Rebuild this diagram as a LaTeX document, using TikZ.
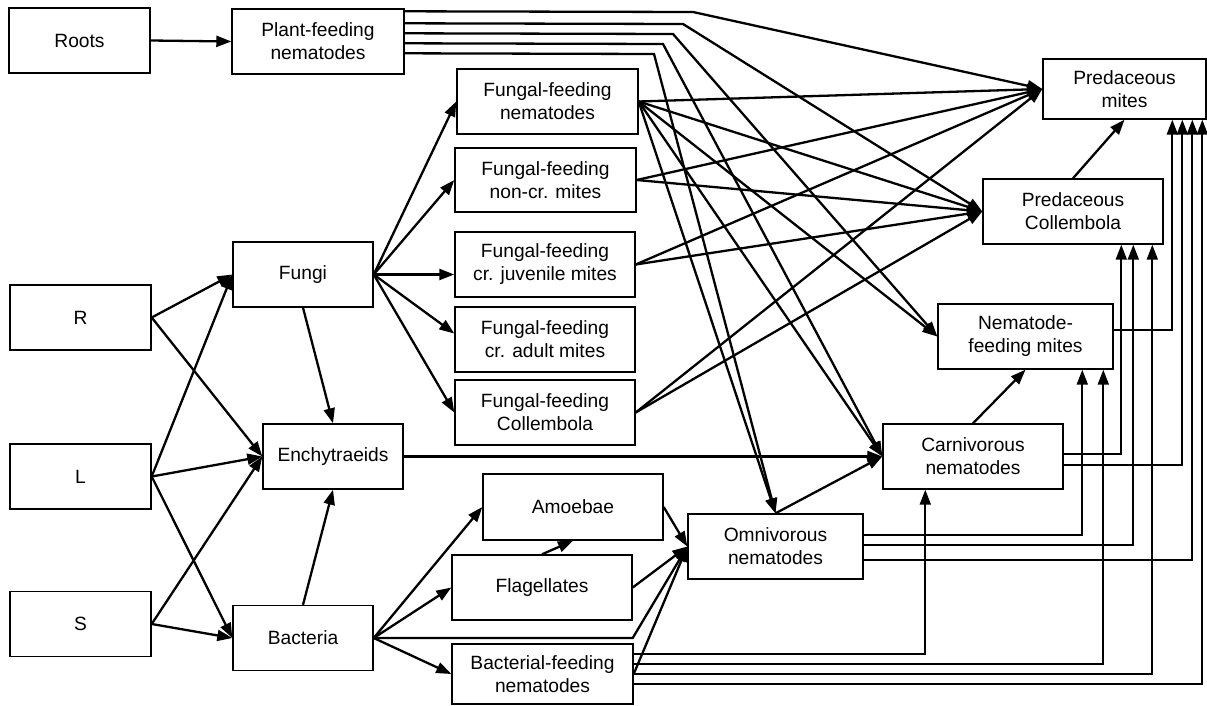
\documentclass[tikz,border=0pt]{standalone}
\usepackage{fontspec}
\setmainfont{Liberation Sans}
\usetikzlibrary{arrows.meta,calc}
\begin{document}
\begin{tikzpicture}[x=1pt,y=-1pt,
  box/.style={draw, line width=1.4pt, inner sep=0pt, align=center,
    font=\fontsize{19.2}{23}\selectfont, minimum height=65pt},
  arr/.style={line width=2.3pt, -{Triangle[length=15pt,width=11pt]}},
  orth/.style={line width=2pt, -{Triangle[length=15pt,width=11pt]}}]
\useasboundingbox (0,0) rectangle (1207,706);
% nodes
\node[box, minimum width=141pt] (roots) at (79.5,40.5) {Roots};
\node[box, minimum width=172pt] (plant) at (318,41.5) {Plant-feeding\\nematodes};
\node[box, minimum width=181pt] (ffn) at (547.5,101.5) {Fungal-feeding\\nematodes};
\node[box, minimum width=181pt, minimum height=64pt] (ffm) at (545.5,180) {Fungal-feeding\\non-cr. mites};
\node[box, minimum width=180pt] (ffj) at (545,264.5) {Fungal-feeding\\cr. juvenile mites};
\node[box, minimum width=180pt] (ffa) at (545,339.5) {Fungal-feeding\\cr. adult mites};
\node[box, minimum width=180pt] (ffc) at (545,412.5) {Fungal-feeding\\Collembola};
\node[box, minimum width=163pt, minimum height=60pt] (pm) at (1124.5,89) {Predaceous\\mites};
\node[box, minimum width=180pt] (pc) at (1073,211.5) {Predaceous\\Collembola};
\node[box, minimum width=175pt] (nfm) at (1025.5,336.5) {Nematode-\\feeding mites};
\node[box, minimum width=180pt] (cn) at (973,456.5) {Carnivorous\\nematodes};
\node[box, minimum width=140pt] (fungi) at (303,274.5) {Fungi};
\node[box, minimum width=141pt] (R) at (80.5,317.5) {R};
\node[box, minimum width=141pt] (L) at (80.5,476.5) {L};
\node[box, minimum width=141pt] (S) at (80.5,624) {S};
\node[box, minimum width=140pt] (ench) at (333,456.5) {Enchytraeids};
\node[box, minimum width=140pt] (bact) at (303,638) {Bacteria};
\node[box, minimum width=180pt, minimum height=66pt] (amoe) at (573,507) {Amoebae};
\node[box, minimum width=180pt] (flag) at (542,587.5) {Flagellates};
\node[box, minimum width=181pt, minimum height=60pt] (bfn) at (542.5,674) {Bacterial-feeding\\nematodes};
\node[box, minimum width=175pt] (omni) at (775.5,546.5) {Omnivorous\\nematodes};
% left part
\draw[arr] (roots.east) -- (plant.west);
\draw[arr] (R.east) -- (fungi.west);
\draw[arr] (R.east) -- (ench.west);
\draw[arr] (L.east) -- (fungi.west);
\draw[arr] (L.east) -- (ench.west);
\draw[arr] (L.east) -- (bact.west);
\draw[arr] (S.east) -- (ench.west);
\draw[arr] (S.east) -- (bact.west);
\draw[arr] (fungi.south) -- (ench.north);
\draw[arr] (bact.north) -- (ench.south);
% fungi fan
\draw[arr] (fungi.east) -- (ffn.west);
\draw[arr] (fungi.east) -- (ffm.west);
\draw[arr] (fungi.east) -- (fungi.east -| ffj.west);
\draw[arr] (fungi.east) -- ($(ffa.west)+(0,-6)$);
\draw[arr] (fungi.east) -- (ffc.west);
% bacteria fan
\draw[arr] (bact.east) -- (amoe.west);
\draw[arr] (bact.east) -- (flag.west);
\draw[arr] (bact.east) -- (bfn.west);
\draw[arr] (bact.east) -- (bact.east -| flag.east) -- (omni.west);
\draw[arr] (flag.north) -- (amoe.south);
\draw[arr] (amoe.east) -- (omni.west);
\draw[arr] (flag.east) -- (omni.west);
\draw[arr] (bfn.east) -- (omni.west);
\draw[arr] (ench.east) -- (cn.west);
\draw[arr] (omni.north) -- (cn.west);
\draw[arr] (cn.north) -- (nfm.south);
\draw[arr] (pc.north) -- (pm.south);
% plant-feeding nematodes
\draw[arr] ($(plant.north east)+(0,3)$) -- (693,12) -- (pm.west);
\draw[arr] ($(plant.north east)+(0,15)$) -- (683,24) -- (pc.west);
\draw[arr] ($(plant.north east)+(0,25)$) -- (673,34) -- (nfm.west);
\draw[arr] ($(plant.north east)+(0,35)$) -- (663,44) -- (cn.west);
\draw[arr] ($(plant.north east)+(0,45)$) -- (654,54) -- (omni.north);
% fungal-feeding nematodes
\draw[arr] (ffn.east) -- (pm.west);
\draw[arr] (ffn.east) -- (pc.west);
\draw[arr] (ffn.east) -- (nfm.west);
\draw[arr] (ffn.east) -- (cn.west);
\draw[arr] (ffn.east) -- (omni.north);
% fungal-feeding mites and collembola
\draw[arr] (ffm.east) -- (pm.west);
\draw[arr] (ffm.east) -- (pc.west);
\draw[arr] (ffj.east) -- (pm.west);
\draw[arr] (ffj.east) -- (pc.west);
\draw[arr] (ffc.east) -- (pm.west);
\draw[arr] (ffc.east) -- (pc.west);
% right-side orthogonal links
\draw[orth] ($(nfm.east)+(0,-6.5)$) -| ($(pm.south west)+(130,0)$);
\draw[orth] ($(cn.east)+(0,-2.5)$) -| ($(pc.south west)+(139,0)$);
\draw[orth] ($(cn.east)+(0,8.5)$) -| ($(pm.south west)+(140,0)$);
\draw[orth] ($(omni.east)+(0,-11.5)$) -| ($(nfm.south west)+(145,0)$);
\draw[orth] ($(omni.east)+(0,-1.5)$) -| ($(pc.south west)+(151,0)$);
\draw[orth] ($(omni.east)+(0,13.5)$) -| ($(pm.south west)+(150,0)$);
\draw[orth] ($(bfn.east)+(0,-20)$) -| ($(cn.south west)+(43,0)$);
\draw[orth] ($(bfn.east)+(0,-10)$) -| ($(nfm.south west)+(166,0)$);
\draw[orth] ($(bfn.east)+(0,0)$) -| ($(pc.south west)+(170,0)$);
\draw[orth] ($(bfn.east)+(0,10)$) -| ($(pm.south west)+(160,0)$);
\end{tikzpicture}
\end{document}
